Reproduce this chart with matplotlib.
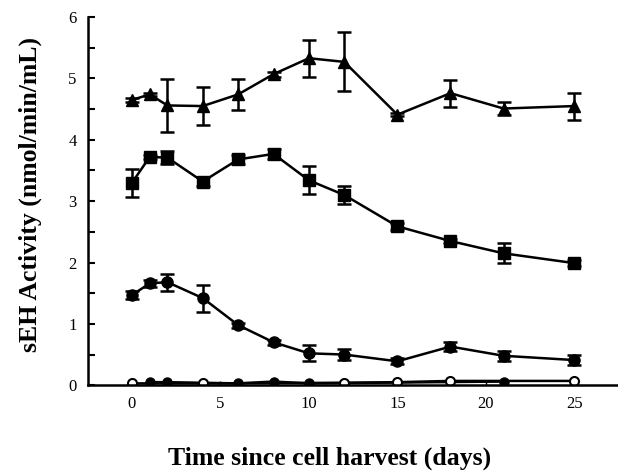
import numpy as np
import matplotlib as mpl
mpl.use('Agg')
import matplotlib.pyplot as plt
from matplotlib.ticker import MultipleLocator

days = [0, 1, 2, 4, 6, 8, 10, 12, 15, 18, 21, 25]

tri = [4.65, 4.74, 4.56, 4.55, 4.74, 5.07, 5.33, 5.27, 4.41, 4.76, 4.51, 4.55]
tri_err = [0.03, 0.03, 0.43, 0.31, 0.25, 0.04, 0.30, 0.48, 0.03, 0.22, 0.10, 0.22]

sq = [3.30, 3.72, 3.71, 3.32, 3.68, 3.77, 3.34, 3.10, 2.59, 2.35, 2.15, 1.99]
sq_err = [0.23, 0.04, 0.10, 0.08, 0.08, 0.08, 0.23, 0.14, 0.06, 0.04, 0.16, 0.05]

circ = [1.47, 1.66, 1.68, 1.42, 0.98, 0.70, 0.52, 0.50, 0.39, 0.63, 0.48, 0.41]
circ_err = [0.06, 0.06, 0.14, 0.22, 0.04, 0.04, 0.13, 0.09, 0.05, 0.08, 0.08, 0.08]

low_days = [1, 2, 6, 8, 10, 21]
low = [0.05, 0.05, 0.03, 0.06, 0.03, 0.06]

open_days = [0, 4, 12, 15, 18, 25]
open_vals = [0.03, 0.03, 0.04, 0.05, 0.07, 0.07]

plt.rcParams['font.family'] = ['Liberation Serif', 'DejaVu Serif']

fig = plt.figure(figsize=(6.18, 4.75), dpi=100)
ax = fig.add_axes([0.142, 0.189, 0.856, 0.775])

style = dict(color='black', lw=1.8, elinewidth=1.8, capsize=5, capthick=1.8, ms=8)
ax.errorbar(days, tri, yerr=tri_err, marker='^', **style)
ax.errorbar(days, sq, yerr=sq_err, marker='s', **style)
ax.errorbar(days, circ, yerr=circ_err, marker='o', **style)
ax.plot(low_days, low, marker='o', color='black', lw=1.8, ms=6.5)
ax.plot(open_days, open_vals, marker='o', color='black', mfc='white', mew=1.5, lw=1.8, ms=6.5)

ax.set_xlim(-2.5, 27.4)
ax.set_ylim(0, 6)
ax.set_xticks([0, 5, 10, 15, 20, 25])
ax.yaxis.set_major_locator(MultipleLocator(1))
ax.yaxis.set_minor_locator(MultipleLocator(0.5))
ax.tick_params(axis='y', which='both', direction='in', length=5, width=1.5, labelsize=12, pad=8)
ax.tick_params(axis='x', direction='in', length=3, width=1, labelsize=12, pad=8)
for s in ['top', 'right']:
    ax.spines[s].set_visible(False)
for s in ['left', 'bottom']:
    ax.spines[s].set_linewidth(1.8)

fig.text(330 / 618, 1 - 458 / 475, 'Time since cell harvest (days)',
         fontsize=18.5, fontweight='bold', ha='center', va='center')
fig.text(30 / 618, 1 - 195 / 475, 'sEH Activity (nmol/min/mL)',
         fontsize=18.5, fontweight='bold', ha='center', va='center', rotation=90)

plt.savefig('out.png', dpi=100)
